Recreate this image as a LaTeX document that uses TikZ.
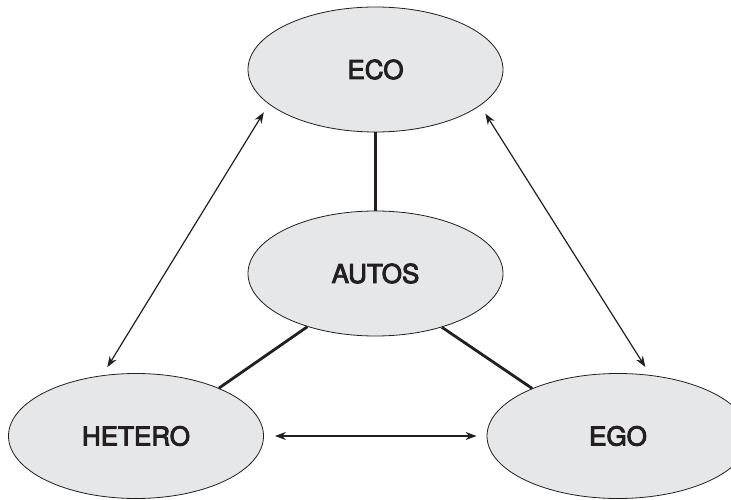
\documentclass[tikz,border=0pt]{standalone}
\usepackage{fontspec}
\setmainfont{TeX Gyre Heros}
\newfontfamily\lblfont[FakeBold=3.5]{TeX Gyre Heros}
\usetikzlibrary{shapes.geometric,arrows.meta}
\definecolor{ellfill}{HTML}{E6E7E8}
\definecolor{ink}{HTML}{231F20}
\tikzset{
  bubble/.style={ellipse, draw=ink, line width=0.8bp, fill=ellfill, inner sep=0pt,
    minimum width=255bp, minimum height=125bp, font=\lblfont\fontsize{26bp}{30bp}\selectfont, text=ink},
  tie/.style={draw=ink, line width=2.8bp},
  link/.style={draw=ink, line width=1.2bp, {Stealth[length=11bp,width=8bp]}-{Stealth[length=11bp,width=8bp]}},
}
\begin{document}
\begin{tikzpicture}[x=1bp,y=-1bp]
\useasboundingbox (0,0) rectangle (731,500);
\node[bubble] (eco) at (375.5,69.5) {ECO};
\node[bubble] (autos) at (375.5,273.5) {AUTOS};
\node[bubble] (hetero) at (136,436) {HETERO};
\node[bubble, minimum width=262bp] (ego) at (618,436) {EGO};
\draw[tie] (eco) -- (autos);
\draw[tie] (autos.218) -- (hetero.30.3);
\draw[tie] (autos.321) -- (ego.151.9);
\draw[link, shorten <=9.5bp, shorten >=9.5bp] (eco.198.7) -- (hetero.119.5);
\draw[link, shorten <=9.5bp, shorten >=9.5bp] (eco.341.3) -- (ego.62.3);
\draw[link, shorten <=11bp, shorten >=10bp] (hetero.east) -- (ego.west);
\end{tikzpicture}
\end{document}
